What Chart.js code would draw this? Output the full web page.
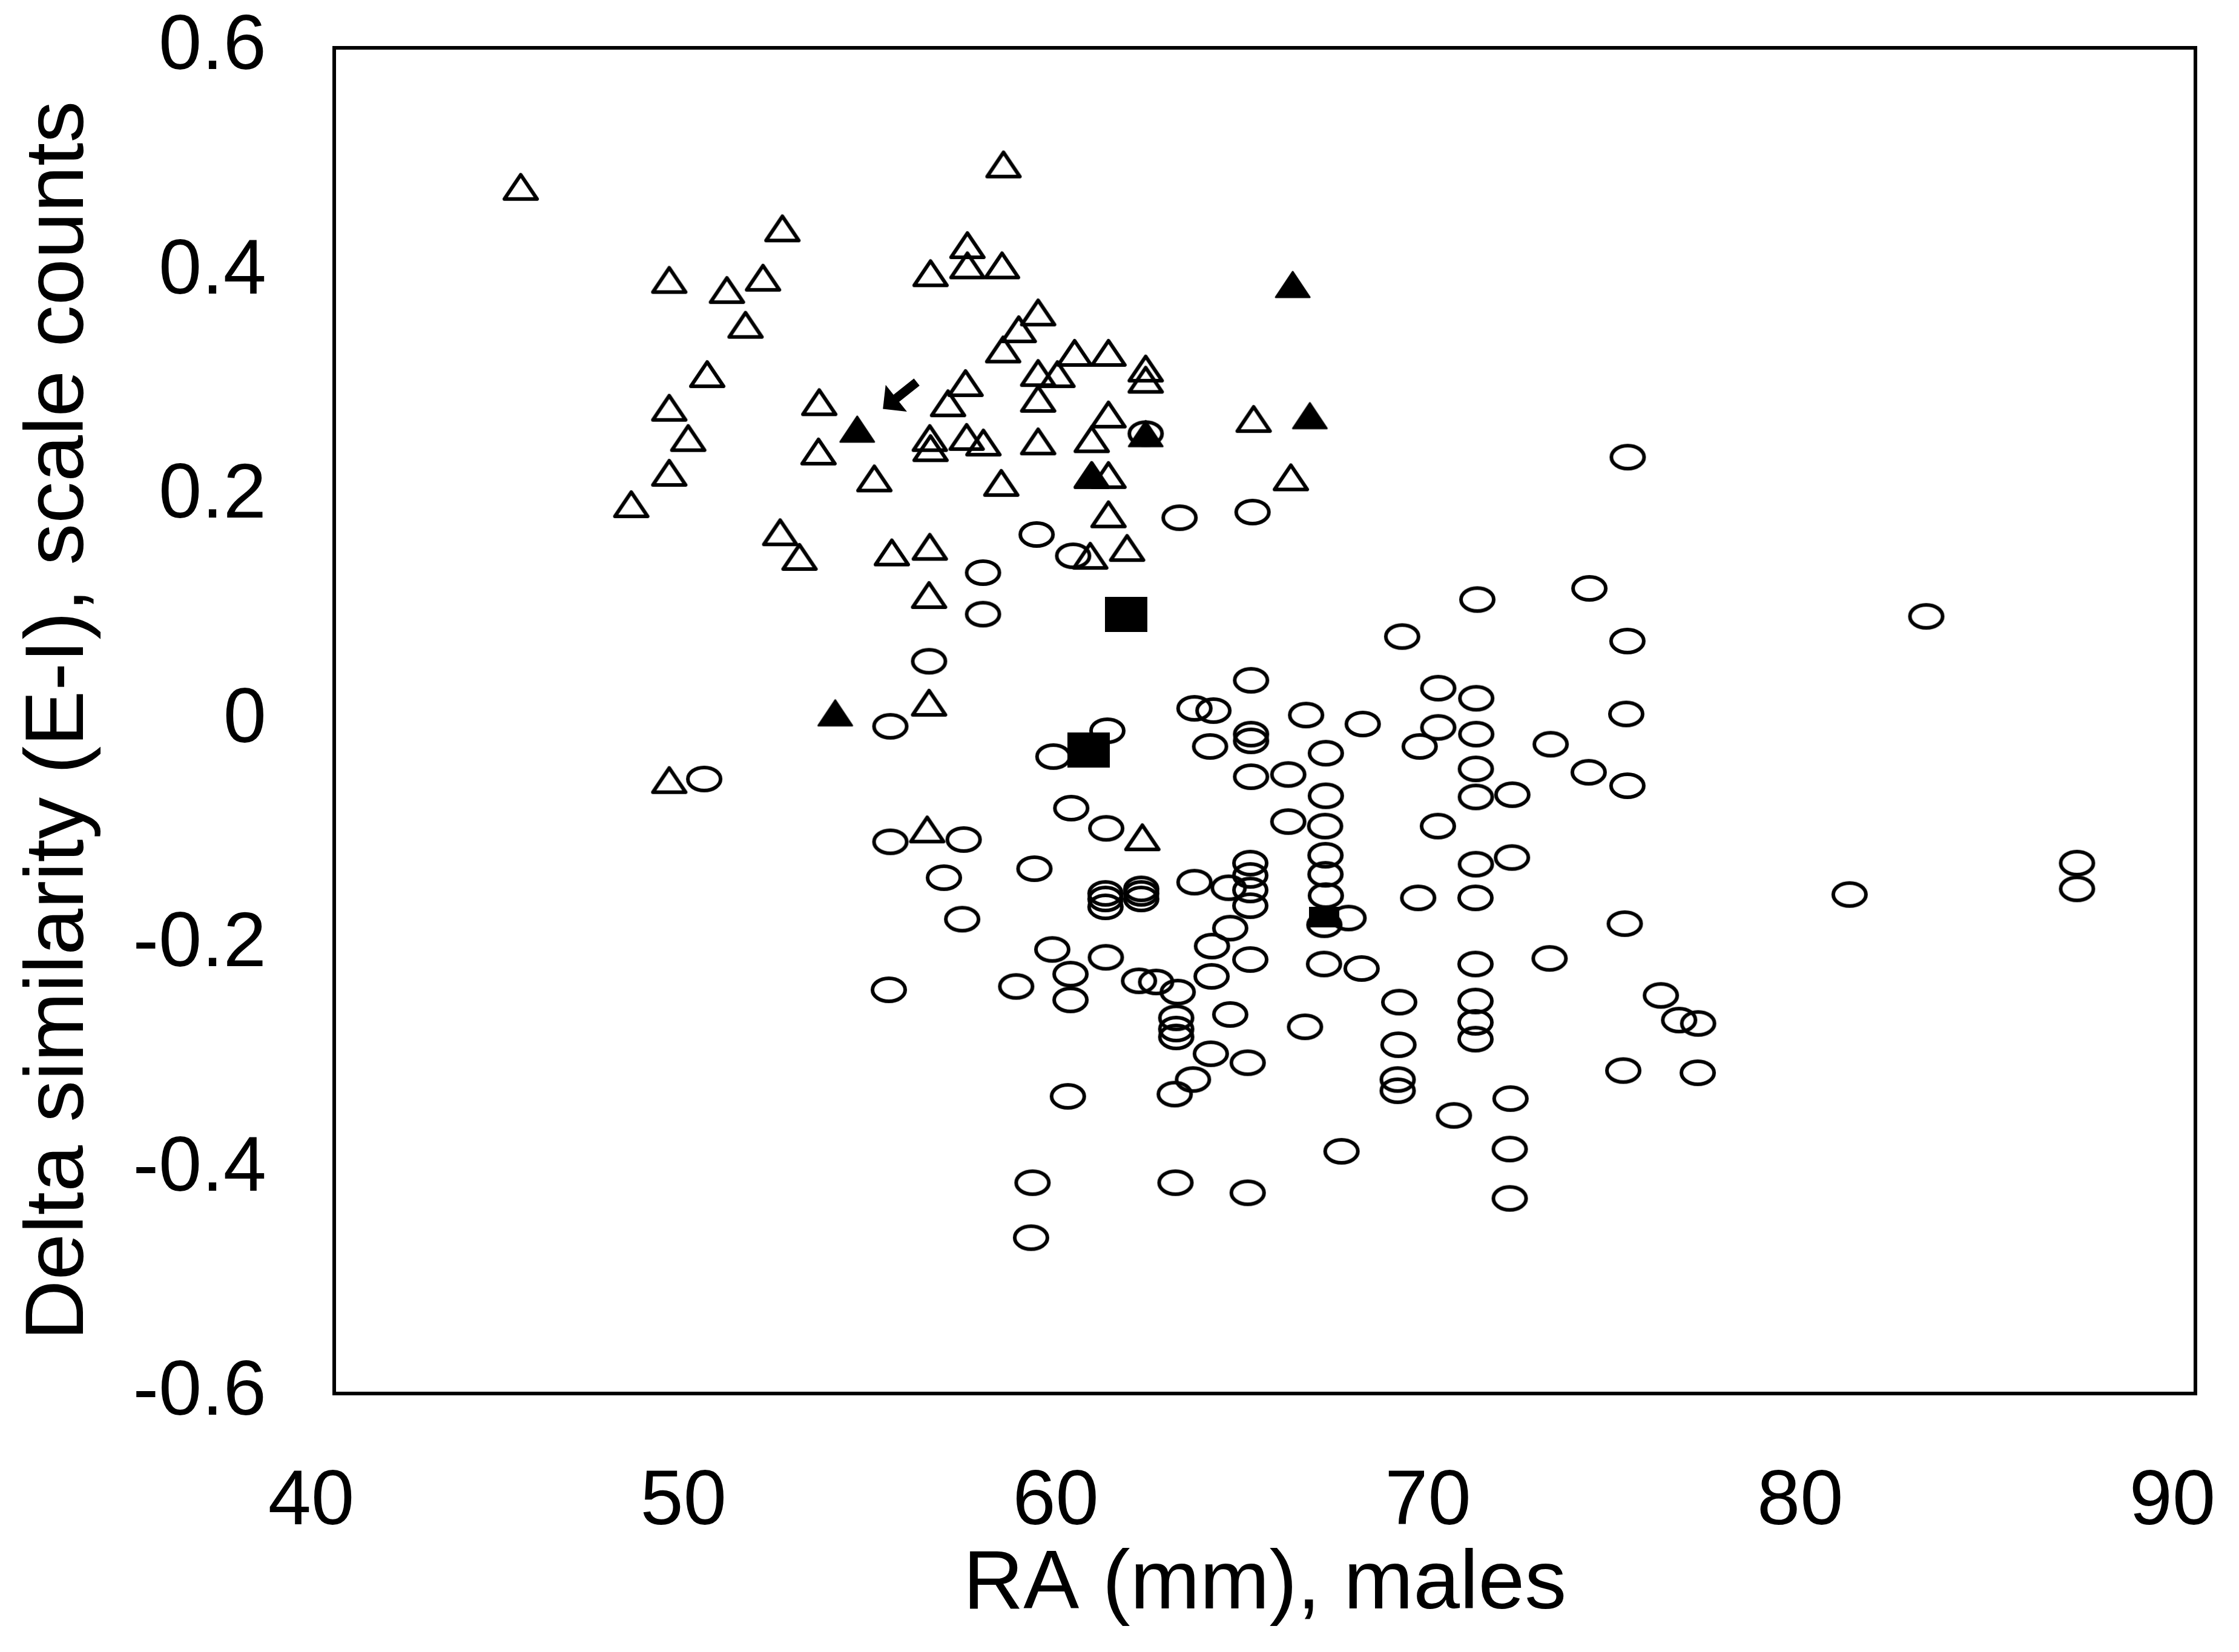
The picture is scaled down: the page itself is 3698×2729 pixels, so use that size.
<!DOCTYPE html>
<html>
<head>
<meta charset="utf-8">
<title>Delta similarity vs RA</title>
<script src="https://cdn.jsdelivr.net/npm/chart.js@4.4.0/dist/chart.umd.min.js"></script>
<style>
  html, body { margin: 0; padding: 0; background: #fff; }
  #wrap { width: 3698px; height: 2729px; }
</style>
</head>
<body>
<div id="wrap"><canvas id="chart" width="3698" height="2729"></canvas></div>
<script>
// axis ticks
const xTicks = [40, 50, 60, 70, 80, 90];
const yTicks = [-0.6, -0.4, -0.2, 0, 0.2, 0.4, 0.6];
const yTickLabels = ['-0.6', '-0.4', '-0.2', '0', '0.2', '0.4', '0.6'];

// open triangles
const openTriX = [45.01, 52.04, 49.00, 50.55, 51.52, 51.05, 56.02, 50.02, 49.00, 49.51,
  49.00, 47.98, 53.03, 53.01, 54.51, 51.98, 52.50, 54.98, 56.00, 56.49,
  56.00, 56.02, 57.98, 57.01, 57.01, 57.94, 58.91, 58.39, 57.97, 59.89,
  60.80, 58.91, 59.43, 61.80, 61.80, 56.96, 56.99, 57.44, 58.91, 58.91,
  60.80, 60.35, 64.70, 60.35, 60.80, 57.92, 65.70, 60.80, 61.30, 60.31,
  55.98, 55.98, 49.00, 55.93, 61.71];
const openTriY = [0.476, 0.439, 0.393, 0.384, 0.395, 0.353, 0.399, 0.309, 0.279, 0.252,
  0.221, 0.193, 0.284, 0.240, 0.216, 0.168, 0.146, 0.150, 0.155, 0.283,
  0.252, 0.243, 0.496, 0.424, 0.406, 0.406, 0.364, 0.349, 0.331, 0.328,
  0.328, 0.310, 0.309, 0.314, 0.304, 0.301, 0.253, 0.248, 0.249, 0.287,
  0.273, 0.251, 0.269, 0.219, 0.219, 0.212, 0.217, 0.184, 0.154, 0.147,
  0.112, 0.016, -0.053, -0.097, -0.104];

// filled triangles
const fillTriX = [54.05, 65.75, 66.21, 53.46, 61.80, 60.35];
const fillTriY = [0.260, 0.389, 0.272, 0.007, 0.256, 0.219];

// filled squares (large and small)
const bigSqX = [61.28, 60.27];
const bigSqY = [0.095, -0.026];
const smallSqX = [66.60];
const smallSqY = [-0.175];

// open circles
const circleX = [62.71, 64.67, 58.87, 59.85, 61.80, 57.43, 57.43, 55.98, 54.94, 59.32,
  60.77, 63.11, 63.62, 63.53, 49.94, 54.94, 56.91, 59.80, 60.74, 58.81,
  56.38, 60.72, 60.72, 60.72, 61.68, 61.68, 61.68, 56.87, 63.11, 59.29,
  60.73, 70.71, 68.69, 64.63, 69.66, 70.68, 66.11, 67.63, 64.63, 64.63,
  66.64, 69.66, 70.68, 69.16, 64.63, 65.63, 70.67, 70.67, 71.65, 66.64,
  66.62, 65.63, 69.65, 66.63, 66.63, 66.64, 67.25, 66.60, 70.67, 71.64,
  69.12, 70.66, 64.03, 64.61, 64.61, 64.61, 64.61, 64.07, 63.58, 64.61,
  66.59, 67.60, 70.66, 73.72, 74.74, 74.71, 72.68, 73.70, 74.74, 80.71,
  74.67, 72.65, 54.90, 58.32, 59.78, 59.78, 61.62, 62.08, 62.66, 63.57,
  62.62, 62.62, 62.62, 64.07, 63.55, 64.54, 63.07, 62.58, 59.71, 58.76,
  62.60, 64.54, 58.72, 66.08, 68.61, 68.59, 68.57, 68.57, 70.66, 70.66,
  70.66, 70.08, 71.60, 71.58, 67.06, 71.58, 75.64, 76.13, 76.64, 74.63,
  76.63, 86.82, 86.82, 74.75, 82.77];
const circleY = [0.181, 0.186, 0.166, 0.147, 0.256, 0.132, 0.095, 0.053, -0.005, -0.032,
  -0.009, 0.011, 0.009, -0.023, -0.052, -0.108, -0.106, -0.078, -0.096, -0.132,
  -0.140, -0.154, -0.159, -0.166, -0.150, -0.154, -0.159, -0.177, -0.144, -0.204,
  -0.211, 0.108, 0.075, 0.036, 0.029, 0.020, 0.005, -0.003, -0.012, -0.018,
  -0.029, -0.006, -0.012, -0.023, -0.050, -0.048, -0.043, -0.068, -0.066, -0.067,
  -0.094, -0.090, -0.094, -0.120, -0.137, -0.156, -0.176, -0.182, -0.128, -0.122,
  -0.158, -0.158, -0.149, -0.127, -0.138, -0.151, -0.165, -0.185, -0.201, -0.213,
  -0.217, -0.221, -0.217, 0.118, 0.071, 0.006, -0.021, -0.046, -0.058, -0.155,
  -0.181, -0.212, -0.240, -0.237, -0.226, -0.249, -0.232, -0.233, -0.242, -0.228,
  -0.265, -0.275, -0.282, -0.262, -0.297, -0.305, -0.320, -0.333, -0.335, -0.412,
  -0.412, -0.421, -0.461, -0.273, -0.251, -0.289, -0.320, -0.330, -0.250, -0.269,
  -0.284, -0.352, -0.337, -0.382, -0.384, -0.426, -0.245, -0.267, -0.270, -0.312,
  -0.314, -0.127, -0.150, 0.235, 0.093];

// arrow annotation (data coordinates, tail -> head)
const arrowFrom = [55.65, 0.302];
const arrowTo = [54.74, 0.278];

const FONT = '"Liberation Sans", Arial, Helvetica, sans-serif';

function pts(xs, ys) {
  return xs.map((x, i) => ({ x: x, y: ys[i] }));
}

function marker(w, h, draw) {
  const c = document.createElement('canvas');
  c.width = w;
  c.height = h;
  const g = c.getContext('2d');
  g.strokeStyle = '#000';
  g.fillStyle = '#000';
  draw(g, w, h);
  return c;
}

const lw = 6;
const circleMark = marker(62, 46, (g, w, h) => {
  g.lineWidth = lw;
  g.beginPath();
  g.ellipse(w / 2, h / 2, w / 2 - lw / 2 - 1, h / 2 - lw / 2 - 1, 0, 0, Math.PI * 2);
  g.stroke();
});
const openTriMark = marker(62, 48, (g, w, h) => {
  g.lineWidth = lw;
  g.lineJoin = 'round';
  g.beginPath();
  g.moveTo(w / 2, 4);
  g.lineTo(w - 4, h - 4);
  g.lineTo(4, h - 4);
  g.closePath();
  g.stroke();
});
const fillTriMark = marker(62, 48, (g, w, h) => {
  g.lineWidth = 3;
  g.lineJoin = 'round';
  g.beginPath();
  g.moveTo(w / 2, 3);
  g.lineTo(w - 3, h - 3);
  g.lineTo(3, h - 3);
  g.closePath();
  g.fill();
  g.stroke();
});
const bigSqMark = marker(70, 58, (g, w, h) => { g.fillRect(0, 0, w, h); });
const smallSqMark = marker(50, 34, (g, w, h) => { g.fillRect(0, 0, w, h); });

// box round the plot area
const framePlugin = {
  id: 'frame',
  beforeDatasetsDraw(chart) {
    const a = chart.chartArea;
    const ctx = chart.ctx;
    ctx.save();
    ctx.strokeStyle = '#000';
    ctx.lineWidth = 6;
    ctx.strokeRect(a.left, a.top, a.right - a.left, a.bottom - a.top);
    ctx.restore();
  }
};

const arrowPlugin = {
  id: 'arrow',
  afterDatasetsDraw(chart) {
    const xs = chart.scales.x, ys = chart.scales.y;
    const x0 = xs.getPixelForValue(arrowFrom[0]), y0 = ys.getPixelForValue(arrowFrom[1]);
    const x1 = xs.getPixelForValue(arrowTo[0]), y1 = ys.getPixelForValue(arrowTo[1]);
    const ang = Math.atan2(y1 - y0, x1 - x0);
    const head = 40;
    const ctx = chart.ctx;
    ctx.save();
    ctx.strokeStyle = '#000';
    ctx.fillStyle = '#000';
    ctx.lineWidth = 15;
    ctx.beginPath();
    ctx.moveTo(x0, y0);
    ctx.lineTo(x1 - Math.cos(ang) * head * 0.6, y1 - Math.sin(ang) * head * 0.6);
    ctx.stroke();
    ctx.beginPath();
    ctx.moveTo(x1, y1);
    ctx.lineTo(x1 - head * Math.cos(ang - Math.PI / 4), y1 - head * Math.sin(ang - Math.PI / 4));
    ctx.lineTo(x1 - head * Math.cos(ang + Math.PI / 4), y1 - head * Math.sin(ang + Math.PI / 4));
    ctx.closePath();
    ctx.fill();
    ctx.restore();
  }
};

function ds(label, xs, ys, style) {
  return {
    label: label,
    data: pts(xs, ys),
    pointStyle: style,
    pointRadius: 25,
    pointHoverRadius: 25,
    backgroundColor: 'rgba(0,0,0,0)',
    borderColor: '#000'
  };
}

new Chart(document.getElementById('chart'), {
  type: 'scatter',
  data: {
    datasets: [
      ds('big squares', bigSqX, bigSqY, bigSqMark),
      ds('small squares', smallSqX, smallSqY, smallSqMark),
      ds('filled triangles', fillTriX, fillTriY, fillTriMark),
      ds('open triangles', openTriX, openTriY, openTriMark),
      ds('circles', circleX, circleY, circleMark)
    ]
  },
  options: {
    responsive: false,
    animation: false,
    devicePixelRatio: 1,
    layout: { padding: { top: 79, right: 72, left: 0, bottom: 0 } },
    plugins: {
      legend: { display: false },
      tooltip: { enabled: false }
    },
    scales: {
      x: {
        type: 'linear',
        min: 40,
        max: 90,
        afterBuildTicks: s => { s.ticks = xTicks.map(v => ({ value: v })); },
        afterFit: s => {
          s.height = 427;
          s.paddingLeft = 0;
          s.paddingRight = 0;
        },
        grid: { display: false },
        border: { display: false },
        ticks: {
          color: '#000',
          font: { family: FONT, size: 128 },
          padding: 96,
          labelOffset: -38,
          maxRotation: 0,
          callback: v => String(v)
        },
        title: {
          display: true,
          text: 'RA (mm), males',
          color: '#000',
          font: { family: FONT, size: 138 },
          padding: { top: 0, bottom: 27 }
        }
      },
      y: {
        type: 'linear',
        min: -0.6,
        max: 0.6,
        afterBuildTicks: s => { s.ticks = yTicks.map(v => ({ value: v })); },
        afterFit: s => {
          s.width = 552;
          s.paddingTop = 0;
          s.paddingBottom = 0;
        },
        grid: { display: false },
        border: { display: false },
        ticks: {
          color: '#000',
          font: { family: FONT, size: 128 },
          padding: 104,
          callback: (v, i) => yTickLabels[i]
        },
        title: {
          display: true,
          text: 'Delta similarity (E-I), scale counts',
          color: '#000',
          font: { family: FONT, size: 138 },
          padding: { top: 16, bottom: 0 }
        }
      }
    }
  },
  plugins: [framePlugin, arrowPlugin]
});
</script>
</body>
</html>
